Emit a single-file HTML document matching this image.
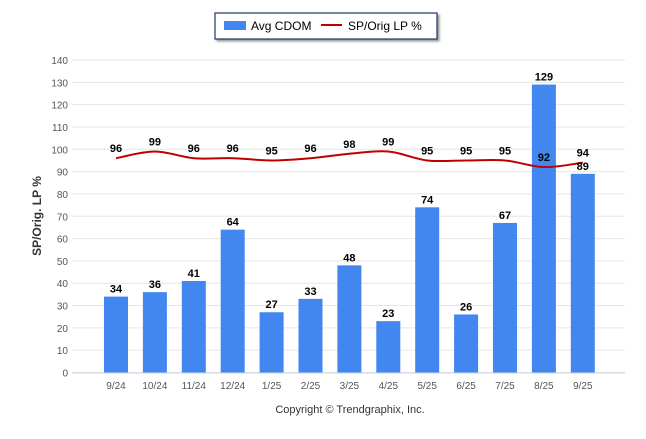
<!DOCTYPE html>
<html><head><meta charset="utf-8"><style>
body{margin:0;background:#fff;font-family:"Liberation Sans",sans-serif}
svg text{font-family:"Liberation Sans",sans-serif}
</style></head><body>
<svg width="646" height="434" id="chart">
<g id="legend">
<rect x="215" y="13" width="222" height="26" fill="#fff" stroke="#1f3864" stroke-width="1.2" style="filter:drop-shadow(2px 2px 1px #999)"/>
<rect x="224" y="21" width="22" height="9" fill="#4286f0"/>
<text x="251" y="30" font-size="12" fill="#000">Avg CDOM</text>
<line x1="321" y1="25" x2="342" y2="25" stroke="#c00000" stroke-width="2"/>
<text x="348" y="30" font-size="12" fill="#000">SP/Orig LP %</text>
</g>
<g id="grid"></g><g id="bars"></g><g id="line"></g><g id="labels"></g>
<text x="41" y="216" font-size="12" font-weight="bold" fill="#333" transform="rotate(-90 41 216)" text-anchor="middle">SP/Orig. LP %</text>
<text x="350" y="413" font-size="11" fill="#333" text-anchor="middle">Copyright © Trendgraphix, Inc.</text>
</svg>
<script>
const categories=["9/24","10/24","11/24","12/24","1/25","2/25","3/25","4/25","5/25","6/25","7/25","8/25","9/25"];
const cdom=[34,36,41,64,27,33,48,23,74,26,67,129,89];
const spPct=[96,99,96,96,95,96,98,99,95,95,95,92,94];
const yTicks=[0,10,20,30,40,50,60,70,80,90,100,110,120,130,140];
const NS="http://www.w3.org/2000/svg";
const y=v=>372.5-v*(312.5/140);
const x=i=>116+i*38.9;
function mk(t,a,p){const e=document.createElementNS(NS,t);for(const k in a)e.setAttribute(k,a[k]);p.appendChild(e);return e;}
const G=document.getElementById('grid'),B=document.getElementById('bars'),L=document.getElementById('line'),T=document.getElementById('labels');
yTicks.forEach(v=>{
 const l=mk('line',{x1:72,x2:625,y1:y(v),y2:y(v),stroke:'#e6e6e6'},G);
 
 
 const t=mk('text',{x:68,y:y(v)+4,'font-size':10,'text-anchor':'end',fill:'#555'},G);t.textContent=v;
 
 
});
const ax=mk('line',{x1:72,x2:625,y1:373,y2:373,stroke:'#ccd6eb'},G);


categories.forEach((c,i)=>{
 const t=mk('text',{x:x(i),y:389,'font-size':10,'text-anchor':'middle',fill:'#555'},G);t.textContent=c;
 
 
 const b=mk('rect',{x:x(i)-12,y:y(cdom[i]),width:24,height:y(0)-y(cdom[i]),fill:'#4286f0'},B);
 
 
 const bl=mk('text',{x:x(i),y:y(cdom[i])-4,'font-size':11,'font-weight':'bold','text-anchor':'middle',fill:'#000'},T);bl.textContent=cdom[i];
 
 
 const ll=mk('text',{x:x(i),y:y(spPct[i])-6,'font-size':11,'font-weight':'bold','text-anchor':'middle',fill:'#000'},T);ll.textContent=spPct[i];
 
 
});
const pts=spPct.map((v,i)=>[x(i),y(v)]);
let d='M'+pts[0][0]+','+pts[0][1];
for(let i=0;i<pts.length-1;i++){
 const p0=pts[Math.max(0,i-1)],p1=pts[i],p2=pts[i+1],p3=pts[Math.min(pts.length-1,i+2)];
 const c1=[p1[0]+(p2[0]-p0[0])/6,p1[1]+(p2[1]-p0[1])/6],c2=[p2[0]-(p3[0]-p1[0])/6,p2[1]-(p3[1]-p1[1])/6];
 d+=` C${c1[0]},${c1[1]} ${c2[0]},${c2[1]} ${p2[0]},${p2[1]}`;
}
const path=mk('path',{d:d,fill:'none',stroke:'#c00000','stroke-width':2},L);


</script>
</body></html>
